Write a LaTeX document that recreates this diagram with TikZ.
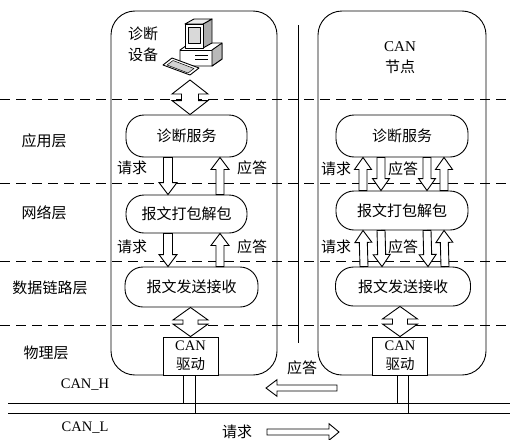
\documentclass[tikz,border=0pt]{standalone}
\usepackage{fontspec}
\setmainfont{Liberation Serif}
\newfontfamily\cjk{Noto Sans CJK SC}
\usetikzlibrary{calc}

% hollow arrow from #1 (tail) to #2 (tip); #3 shaft half width, #4 head half width, #5 head length
\newcommand\blockarrow[5]{%
  \draw[hollow] let \p1=(#1), \p2=(#2),
      \n1={veclen(\x2-\x1,\y2-\y1)},
      \n2={(\x2-\x1)/\n1}, \n3={(\y2-\y1)/\n1} in
    ({\x1-\n3*#3},{\y1+\n2*#3})
 -- ({\x2-\n2*#5-\n3*#3},{\y2-\n3*#5+\n2*#3})
 -- ({\x2-\n2*#5-\n3*#4},{\y2-\n3*#5+\n2*#4})
 -- (\p2)
 -- ({\x2-\n2*#5+\n3*#4},{\y2-\n3*#5-\n2*#4})
 -- ({\x2-\n2*#5+\n3*#3},{\y2-\n3*#5-\n2*#3})
 -- ({\x1+\n3*#3},{\y1-\n2*#3}) -- cycle;}

% hollow double-headed arrow between #1 and #2
\newcommand\dblarrow[5]{%
  \draw[hollow] let \p1=(#1), \p2=(#2),
      \n1={veclen(\x2-\x1,\y2-\y1)},
      \n2={(\x2-\x1)/\n1}, \n3={(\y2-\y1)/\n1} in
    (\p1)
 -- ({\x1+\n2*#5-\n3*#4},{\y1+\n3*#5+\n2*#4})
 -- ({\x1+\n2*#5-\n3*#3},{\y1+\n3*#5+\n2*#3})
 -- ({\x2-\n2*#5-\n3*#3},{\y2-\n3*#5+\n2*#3})
 -- ({\x2-\n2*#5-\n3*#4},{\y2-\n3*#5+\n2*#4})
 -- (\p2)
 -- ({\x2-\n2*#5+\n3*#4},{\y2-\n3*#5-\n2*#4})
 -- ({\x2-\n2*#5+\n3*#3},{\y2-\n3*#5-\n2*#3})
 -- ({\x1+\n2*#5+\n3*#3},{\y1+\n3*#5-\n2*#3})
 -- ({\x1+\n2*#5+\n3*#4},{\y1+\n3*#5-\n2*#4})
 -- cycle;}

\tikzset{
  stroke/.style={line width=0.9pt, draw=black},
  hollow/.style={stroke, fill=white, line join=miter},
  layerline/.style={line width=0.9pt, dash pattern=on 10pt off 6pt},
  container/.style={stroke, rectangle, rounded corners=24pt, inner sep=0pt},
  pill/.style={stroke, fill=white, rectangle, rounded corners=18pt, inner sep=0pt,
    font=\cjk\fontsize{15}{17}\selectfont},
  drv/.style={stroke, fill=white, rectangle, minimum width=55pt, minimum height=38pt,
    inner sep=0pt, align=center, font=\fontsize{14.5}{19}\selectfont},
  lbl/.style={inner sep=0pt, font=\cjk\fontsize{15}{17}\selectfont},
  latin/.style={inner sep=0pt, font=\fontsize{14.5}{17}\selectfont},
}

\begin{document}
\begin{tikzpicture}[x=1pt, y=-1pt]
\useasboundingbox (0,0) rectangle (510,439);

% layer borders
\foreach \yy in {99,183,261,325} \draw[layerline] (0,\yy) -- (510,\yy);

% layer names
\node[lbl] (app)  at (44,141) {应用层};
\node[lbl] (net)  at (44,213) {网络层};
\node[lbl] (dll)  at (50,288) {数据链路层};
\node[lbl] (phy)  at (46,353) {物理层};

% the two stations
\node[container, minimum width=166pt, minimum height=364pt] (dev) at (194,193) {};
\node[container, minimum width=168pt, minimum height=364pt] (ecu) at (402,193) {};
\coordinate (divTop) at (298,25);
\coordinate (divBot) at (298,343);
\draw[stroke] (divTop) -- (divBot);

% station titles
\node[lbl, align=center, font=\cjk\fontsize{15}{21}\selectfont] (devname) at (143,44) {诊断\\设备};
\node[latin, align=center, font=\fontsize{15}{21}\selectfont] (ecuname) at (400,58) {CAN\\{\cjk 节点}};

% diagnostic tester: PC icon
\begin{scope}[stroke, line join=round]
  % system unit
  \filldraw[fill=white] (180,50) -- (190,43) -- (222,43) -- (222,59) -- (212,66) -- (180,66) -- cycle;
  \filldraw[fill=gray!55] (212,50) -- (222,43) -- (222,59) -- (212,66) -- cycle;
  \draw (180,50) -- (212,50);
  \draw[line width=0.6pt] (195,55) -- (208,55) (195,59) -- (208,59);
  % monitor
  \filldraw[fill=gray!65] (203,24) -- (212,19) -- (212,43) -- (203,48) -- cycle;
  \filldraw[fill=gray!15] (185,24) -- (194,19) -- (212,19) -- (203,24) -- cycle;
  \filldraw[fill=white] (185,24) rectangle (203,48);
  \filldraw[fill=gray!30] (188,27) rectangle (200,43);
  % keyboard
  \filldraw[fill=white] (163,65) -- (172,58) -- (199,68) -- (190,75) -- cycle;
  \filldraw[fill=gray!35, line width=0.5pt] (167,65) -- (173,60.5) -- (194,68.5) -- (188,73) -- cycle;
\end{scope}
\coordinate (pc) at (190,80);

% service blocks
\node[pill, minimum width=121pt, minimum height=42pt] (L1) at (186.5,136) {诊断服务};
\node[pill, minimum width=121pt, minimum height=38pt] (L2) at (186.5,214) {报文打包解包};
\node[pill, minimum width=133pt, minimum height=40pt] (L3) at (191.5,287) {报文发送接收};
\node[pill, minimum width=132pt, minimum height=42pt] (R1) at (402,136) {诊断服务};
\node[pill, minimum width=132pt, minimum height=39pt] (R2) at (402,210.5) {报文打包解包};
\node[pill, minimum width=135pt, minimum height=39pt] (R3) at (403,286.5) {报文发送接收};

% CAN transceivers
\node[drv] (LD) at (190.5,356) {CAN\\{\cjk 驱动}};
\node[drv] (RD) at (400,356) {CAN\\{\cjk 驱动}};

% tester <-> diagnostic service
\coordinate (pcb) at (pc |- L1.north);
\dblarrow{pc}{pcb}{8.5}{18}{14}
% data link <-> transceivers
\coordinate (lda) at (LD.north |- L3.south);
\dblarrow{lda}{LD.north}{7.5}{17.5}{12.5}
\coordinate (rda) at (RD.north |- R3.south);
\dblarrow{rda}{RD.north}{7.5}{17.5}{12.5}

% tester stack: request down, response up
\blockarrow{[xshift=-18.5pt]L1.south}{[xshift=-18.5pt]L2.north}{4.5}{9}{12}
\blockarrow{[xshift=33.5pt]L2.north}{[xshift=33.5pt]L1.south}{4}{9}{12}
\blockarrow{[xshift=-18.5pt]L2.south}{[xshift=-23.5pt]L3.north}{4.5}{9}{12}
\blockarrow{[xshift=28.5pt]L3.north}{[xshift=33.5pt]L2.south}{4}{9}{12}
\node[lbl] (q1) at (132,168) {请求};
\node[lbl] (a1) at (252,168) {应答};
\node[lbl] (q2) at (132,247) {请求};
\node[lbl] (a2) at (252,247) {应答};

% node stack
\foreach \up/\dn in {R1/R2, R2/R3} {
  \blockarrow{[xshift=-39pt]\dn.north}{[xshift=-39pt]\up.south}{4}{8.5}{12}
  \blockarrow{[xshift=-21pt]\up.south}{[xshift=-21pt]\dn.north}{4}{8.5}{12}
  \blockarrow{[xshift=25pt]\up.south}{[xshift=25pt]\dn.north}{4}{8.5}{12}
  \blockarrow{[xshift=42pt]\dn.north}{[xshift=42pt]\up.south}{4}{8.5}{12}
}
\node[lbl] (q3) at (336,169) {请求};
\node[lbl] (a3) at (403,169) {应答};
\node[lbl] (q4) at (336,247) {请求};
\node[lbl] (a4) at (403,247) {应答};

% CAN bus
\coordinate (hL) at (8,403);  \coordinate (hR) at (510,403);
\coordinate (lL) at (8,413);  \coordinate (lR) at (510,413);
\draw[stroke] (hL) -- (hR);
\draw[stroke] (lL) -- (lR);
\node[latin] (canh) at (85,385) {CAN\_H};
\node[latin] (canl) at (85,428) {CAN\_L};

% transceiver taps
\coordinate (ldh) at ([xshift=-7.5pt]LD.south);
\coordinate (ldl) at ([xshift=4.5pt]LD.south);
\coordinate (rdh) at ([xshift=-3pt]RD.south);
\coordinate (rdl) at ([xshift=8pt]RD.south);
\draw[stroke] (ldh) -- (ldh |- hL);
\draw[stroke] (ldl) -- (ldl |- lL);
\draw[stroke] (rdh) -- (rdh |- hL);
\draw[stroke] (rdl) -- (rdl |- lL);

% traffic direction on the bus
\coordinate (ansT) at (337,388); \coordinate (ansH) at (266,388);
\blockarrow{ansT}{ansH}{3}{8.3}{11}
\node[lbl] (ans) at (302,368) {应答};
\coordinate (reqT) at (267,432); \coordinate (reqH) at (339,432);
\blockarrow{reqT}{reqH}{3}{8.3}{10}
\node[lbl] (req) at (237,432) {请求};
\end{tikzpicture}
\end{document}
